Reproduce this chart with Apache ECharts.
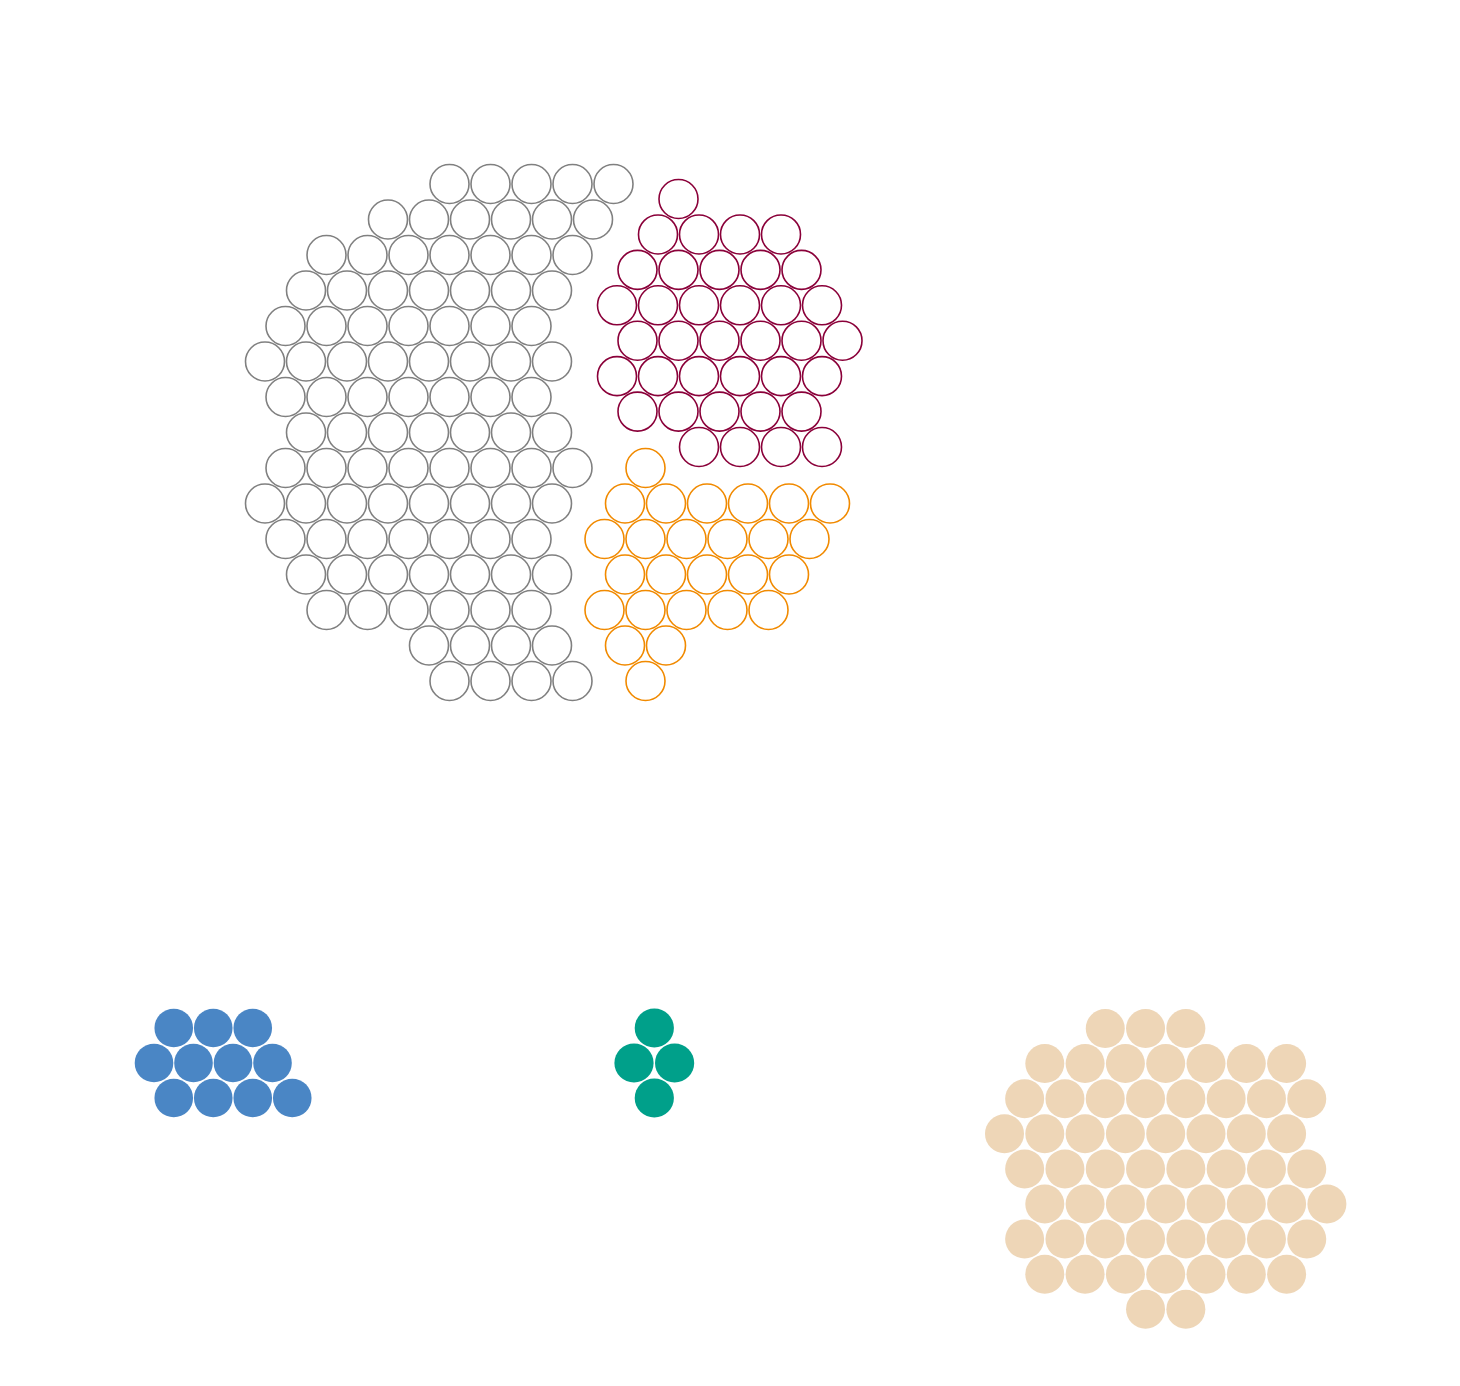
<!DOCTYPE html>
<html>
<head>
<meta charset="utf-8">
<style>
  html, body { margin: 0; padding: 0; background: #ffffff; }
  #chart { width: 1460px; height: 1386px; }
</style>
<script src="https://cdn.jsdelivr.net/npm/echarts@6/dist/echarts.min.js"></script>
</head>
<body>
<div id="chart"></div>
<script>
// Each group: rows of hex-grid cells; numbers are half-column indices in that row.
const grayRows = [
  [9, 11, 13, 15, 17],
  [6, 8, 10, 12, 14, 16],
  [3, 5, 7, 9, 11, 13, 15],
  [2, 4, 6, 8, 10, 12, 14],
  [1, 3, 5, 7, 9, 11, 13],
  [0, 2, 4, 6, 8, 10, 12, 14],
  [1, 3, 5, 7, 9, 11, 13],
  [2, 4, 6, 8, 10, 12, 14],
  [1, 3, 5, 7, 9, 11, 13, 15],
  [0, 2, 4, 6, 8, 10, 12, 14],
  [1, 3, 5, 7, 9, 11, 13],
  [2, 4, 6, 8, 10, 12, 14],
  [3, 5, 7, 9, 11, 13],
  [8, 10, 12, 14],
  [9, 11, 13, 15]
];
const maroonRows = [
  [3],
  [2, 4, 6, 8],
  [1, 3, 5, 7, 9],
  [0, 2, 4, 6, 8, 10],
  [1, 3, 5, 7, 9, 11],
  [0, 2, 4, 6, 8, 10],
  [1, 3, 5, 7, 9],
  [4, 6, 8, 10]
];
const orangeRows = [
  [2],
  [1, 3, 5, 7, 9, 11],
  [0, 2, 4, 6, 8, 10],
  [1, 3, 5, 7, 9],
  [0, 2, 4, 6, 8],
  [1, 3],
  [2]
];
const blueRows = [
  [1, 3, 5],
  [0, 2, 4, 6],
  [1, 3, 5, 7]
];
const tealRows = [
  [1],
  [0, 2],
  [1]
];
const beigeRows = [
  [5, 7, 9],
  [2, 4, 6, 8, 10, 12, 14],
  [1, 3, 5, 7, 9, 11, 13, 15],
  [0, 2, 4, 6, 8, 10, 12, 14],
  [1, 3, 5, 7, 9, 11, 13, 15],
  [2, 4, 6, 8, 10, 12, 14, 16],
  [1, 3, 5, 7, 9, 11, 13, 15],
  [2, 4, 6, 8, 10, 12, 14]
  , [7, 9]
];

function toCells(rows) {
  const out = [];
  rows.forEach((row, r) => row.forEach(k => out.push([k, r])));
  return out;
}
function maxK(rows) { return Math.max.apply(null, rows.map(r => Math.max.apply(null, r))); }

const groups = [
  { name: 'A', rows: grayRows,   left: 265,  top: 184,  hx: 20.5,  vy: 35.5,  size: 39,   stroke: '#808080', fill: null },
  { name: 'B', rows: maroonRows, left: 617,  top: 199,  hx: 20.5,  vy: 35.43, size: 39,   stroke: '#8a0039', fill: null },
  { name: 'C', rows: orangeRows, left: 604.5,top: 468,  hx: 20.5,  vy: 35.5,  size: 39,   stroke: '#f18a00', fill: null },
  { name: 'D', rows: blueRows,   left: 154,  top: 1028, hx: 19.75, vy: 35,    size: 38.6, stroke: null, fill: '#4a86c5' },
  { name: 'E', rows: tealRows,   left: 634,  top: 1028, hx: 20.3,  vy: 35,    size: 39.2, stroke: null, fill: '#00a08a' },
  { name: 'F', rows: beigeRows,  left: 1004.5,top: 1028.5, hx: 20.15, vy: 35.1, size: 39, stroke: null, fill: '#eed6b7' }
];

const grid = [], xAxis = [], yAxis = [], series = [];
groups.forEach((g, i) => {
  const km = maxK(g.rows), rm = g.rows.length - 1;
  grid.push({ left: g.left, top: g.top, width: km * g.hx, height: rm * g.vy, containLabel: false });
  xAxis.push({ gridIndex: i, type: 'value', min: 0, max: km, show: false });
  yAxis.push({ gridIndex: i, type: 'value', min: 0, max: rm, inverse: true, show: false });
  series.push({
    name: g.name,
    type: 'scatter',
    xAxisIndex: i, yAxisIndex: i,
    data: toCells(g.rows),
    symbol: 'circle',
    symbolSize: g.size,
    clip: false,
    silent: true,
    itemStyle: g.fill
      ? { color: g.fill, opacity: 1 }
      : { color: '#ffffff', borderColor: g.stroke, borderWidth: 1.6, opacity: 1 }
  });
});

const chart = echarts.init(document.getElementById('chart'), null, { renderer: 'canvas' });
chart.setOption({
  backgroundColor: '#ffffff',
  animation: false,
  grid, xAxis, yAxis, series
});
</script>
</body>
</html>
